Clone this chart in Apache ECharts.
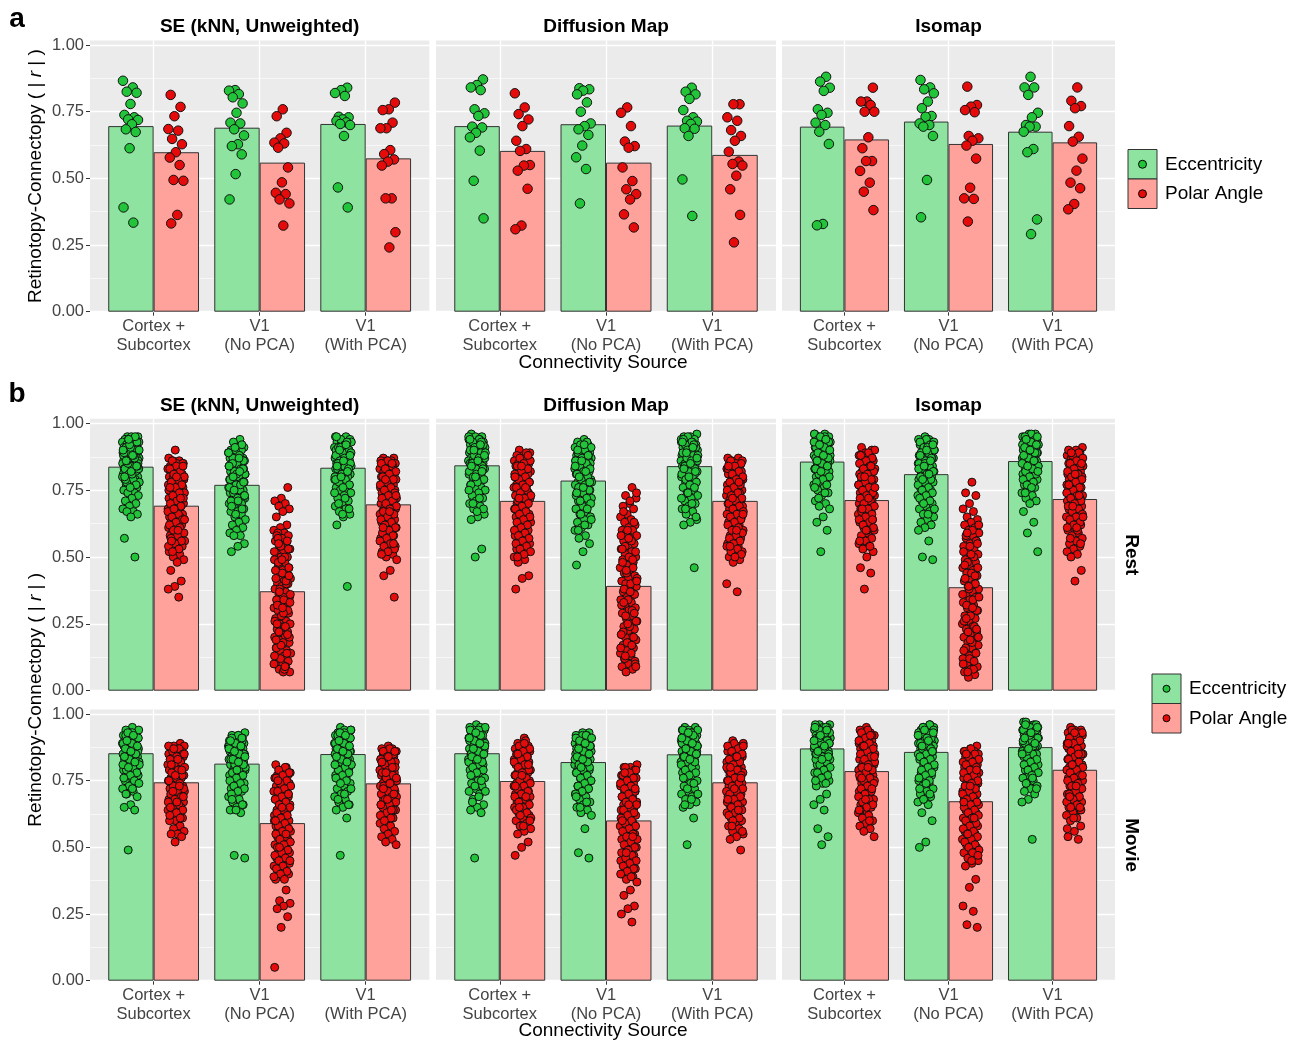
<!DOCTYPE html>
<html><head><meta charset="utf-8">
<script src="https://cdn.jsdelivr.net/npm/echarts@6/dist/echarts.min.js"></script>
<style>html,body{margin:0;padding:0;background:#fff}#c{width:1307px;height:1042px}</style>
</head><body><div id="c"></div>
<script>
// ---------------- DATA ----------------
const categories = ['Cortex +\nSubcortex', 'V1\n(No PCA)', 'V1\n(With PCA)'];
const methods = ['SE (kNN, Unweighted)', 'Diffusion Map', 'Isomap'];
const conditions = ['Rest', 'Movie'];
const seriesNames = ['Eccentricity', 'Polar Angle'];
const yTicks = [0, 0.25, 0.5, 0.75, 1];
const yMinorTicks = [0.125, 0.375, 0.625, 0.875];
const xTitle = 'Connectivity Source';

// Panel a: bar heights (mean |r|), rows = method, cols = connectivity source
const aEccMeans = [[0.696, 0.690, 0.704], [0.696, 0.703, 0.698], [0.694, 0.713, 0.675]];
const aPolMeans = [[0.598, 0.559, 0.575], [0.603, 0.559, 0.588], [0.646, 0.629, 0.635]];

// Panel a: individual points
const aEcc_SE = [
  [0.866,0.841,0.825,0.821,0.779,0.738,0.729,0.721,0.719,0.703,0.684,0.674,0.613,0.391,0.334],
  [0.831,0.829,0.816,0.804,0.781,0.746,0.709,0.706,0.684,0.661,0.628,0.621,0.590,0.516,0.421],
  [0.840,0.831,0.820,0.809,0.731,0.729,0.721,0.716,0.710,0.704,0.700,0.659,0.466,0.391]
];
const aPol_SE = [
  [0.813,0.768,0.733,0.685,0.679,0.648,0.628,0.598,0.578,0.550,0.494,0.491,0.363,0.331],
  [0.759,0.733,0.671,0.650,0.634,0.631,0.615,0.541,0.485,0.446,0.441,0.421,0.406,0.323],
  [0.784,0.759,0.756,0.709,0.688,0.688,0.606,0.591,0.571,0.563,0.548,0.425,0.425,0.298,0.241]
];
const aEcc_DM = [
  [0.871,0.850,0.841,0.831,0.759,0.744,0.734,0.694,0.691,0.671,0.654,0.604,0.491,0.350],
  [0.838,0.834,0.829,0.815,0.785,0.750,0.706,0.696,0.684,0.663,0.623,0.579,0.535,0.406],
  [0.840,0.825,0.815,0.798,0.756,0.729,0.716,0.713,0.704,0.688,0.686,0.659,0.496,0.359]
];
const aPol_DM = [
  [0.819,0.766,0.741,0.721,0.696,0.641,0.610,0.603,0.550,0.548,0.529,0.461,0.323,0.309],
  [0.766,0.746,0.696,0.638,0.621,0.615,0.541,0.490,0.459,0.441,0.421,0.365,0.316],
  [0.778,0.778,0.729,0.716,0.681,0.659,0.641,0.600,0.563,0.554,0.548,0.510,0.459,0.363,0.260]
];
const aEcc_ISO = [
  [0.881,0.863,0.840,0.828,0.759,0.746,0.738,0.709,0.700,0.675,0.629,0.329,0.324],
  [0.869,0.841,0.834,0.819,0.788,0.763,0.734,0.731,0.706,0.700,0.694,0.659,0.494,0.354],
  [0.881,0.841,0.841,0.813,0.746,0.729,0.700,0.694,0.694,0.675,0.610,0.598,0.346,0.291]
];
const aPol_ISO = [
  [0.840,0.788,0.788,0.775,0.750,0.750,0.654,0.613,0.565,0.565,0.528,0.484,0.450,0.381],
  [0.844,0.775,0.769,0.756,0.748,0.659,0.650,0.641,0.623,0.574,0.465,0.425,0.423,0.338],
  [0.841,0.791,0.771,0.763,0.696,0.656,0.638,0.574,0.529,0.484,0.463,0.404,0.384]
];

// Panel b: bar heights
const bRestEccMeans  = [[0.838, 0.770, 0.834], [0.843, 0.786, 0.840], [0.857, 0.810, 0.859]];
const bRestPolMeans  = [[0.692, 0.372, 0.697], [0.710, 0.392, 0.710], [0.713, 0.387, 0.717]];
const bMovieEccMeans = [[0.853, 0.814, 0.850], [0.853, 0.820, 0.849], [0.871, 0.858, 0.876]];
const bMoviePolMeans = [[0.744, 0.591, 0.740], [0.749, 0.601, 0.744], [0.786, 0.673, 0.791]];

// Panel b: individual points, in hundredths of |r|
const bRestEcc_SE = [
  [95,95,95,94,94,93,93,93,92,92,92,91,91,91,90,90,90,90,89,89,89,89,88,88,88,88,87,87,87,87,87,86,86,86,86,86,85,85,85,85,85,84,84,84,84,83,83,83,83,82,82,82,81,81,81,80,80,80,79,79,78,78,77,77,76,76,75,74,74,73,72,71,70,69,68,67,67,66,65,57,50,
   94,93,92,91,90,89,88,87,86,85,84,83,82,81,80,79,78,93,91,89,87,85,83,81,79,77,92,90,88,86,84,82,80,95,94,90,88,86,84,76],
  [94,93,91,91,90,90,89,89,88,88,87,87,87,86,86,86,85,85,85,84,84,84,83,83,83,82,82,82,81,81,80,80,80,79,79,78,78,78,77,77,76,76,76,75,75,74,74,73,73,72,72,71,71,70,70,69,69,68,67,67,66,65,64,63,62,61,60,59,58,58,55,54,52,
   92,90,89,88,87,86,85,84,83,82,81,80,79,78,77,76,75,74,73,72,71,70,91,89,87,85,83,81,79,77,75,73,71,69,68,66,84,82,80,78],
  [95,95,94,94,93,93,92,92,91,91,91,90,90,90,89,89,89,88,88,88,87,87,87,86,86,86,85,85,85,84,84,84,83,83,83,82,82,81,81,80,80,79,79,78,78,77,77,76,75,75,74,73,72,71,70,69,68,67,66,65,62,39,
   94,93,92,91,90,89,88,87,86,85,84,83,82,81,80,79,78,77,76,95,93,91,89,87,85,83,81,79,92,90,88,86,84,82,80,74,72,70,68,66]
];
const bRestPol_SE = [
  [90,87,86,86,85,85,84,84,83,83,82,82,81,81,80,80,80,79,79,78,78,77,77,77,76,76,75,75,75,74,74,73,73,72,72,72,71,71,70,70,69,69,68,68,67,67,66,66,65,65,64,64,63,63,62,62,61,60,60,59,59,58,57,57,56,55,55,54,53,52,51,50,49,48,45,41,39,38,35,
   86,85,84,83,82,81,80,79,78,77,76,75,74,73,72,71,70,69,68,67,66,65,64,63,62,61,60,59,58,57,56,55,54,53,52,84,80,76,72,68,64,60,56],
  [76,72,71,70,69,68,67,65,62,61,60,59,59,58,57,56,55,54,53,52,51,50,50,49,48,47,46,45,45,44,43,42,41,40,40,39,38,37,36,35,35,34,33,32,31,30,30,29,28,27,26,25,25,24,23,22,21,20,20,19,18,17,16,15,15,14,13,12,11,10,10,9,8,7,7,
   58,56,54,52,50,48,46,44,42,40,38,36,34,32,30,28,26,24,22,20,18,16,14,12,10,8,57,53,49,45,41,37,33,29,25,21,17,13,9,55,43,31,19],
  [87,87,86,86,86,85,85,84,84,84,83,83,82,82,81,81,80,80,79,79,78,78,77,77,76,76,75,75,74,74,73,73,72,72,71,71,70,70,69,69,68,68,67,67,66,66,65,64,64,63,63,62,62,61,60,59,58,58,57,56,55,54,53,52,51,50,49,45,43,35,
   86,85,84,83,82,81,80,79,78,77,76,75,74,73,72,71,70,69,68,67,66,65,64,63,62,61,60,59,58,57,56,55,54,53,52,51,85,79,73,67,61,55]
];
const bRestEcc_DM = [
  [96,95,95,94,94,93,93,92,92,92,91,91,90,90,90,89,89,89,88,88,88,87,87,87,86,86,86,85,85,85,84,84,83,83,82,82,81,81,80,79,79,78,77,76,76,75,74,73,72,71,70,69,68,66,65,64,53,50,
   95,94,93,92,91,90,89,88,87,86,85,84,83,82,81,80,79,78,77,93,91,89,87,85,83,81,94,92,90,88,86,84,82,80,75,72,70,68,67],
  [94,93,92,91,91,90,90,89,89,88,88,88,87,87,87,86,86,86,85,85,85,84,84,84,83,83,82,82,82,81,81,80,80,79,79,78,78,77,77,76,76,75,75,74,74,73,72,72,71,70,69,68,67,66,65,64,63,62,61,60,58,57,55,52,47,
   93,92,91,90,89,88,87,86,85,84,83,82,81,80,79,78,77,76,75,74,73,72,71,70,92,90,88,86,84,82,80,78,76,74,68,66,64,62,60],
  [96,95,95,94,94,93,93,92,92,91,91,91,90,90,90,89,89,89,88,88,88,87,87,87,86,86,86,85,85,85,84,84,83,83,82,82,81,81,80,80,79,78,78,77,76,75,74,73,72,71,70,69,68,67,66,64,63,62,46,
   95,94,93,92,91,90,89,88,87,86,85,84,83,82,81,80,79,78,77,94,92,90,88,86,84,82,80,93,91,89,87,85,83,76,74,72,70,68,65]
];
const bRestPol_DM = [
  [90,89,88,88,87,87,86,86,85,85,84,84,83,83,82,82,81,81,80,80,79,79,78,78,77,77,76,76,75,75,74,74,73,73,72,72,71,70,70,69,68,68,67,66,66,65,64,63,63,62,61,60,59,58,57,56,55,54,53,52,51,50,49,48,43,42,38,
   89,87,86,85,84,83,82,81,80,79,78,77,76,75,74,73,72,71,70,69,68,67,66,65,64,63,62,61,60,59,58,57,56,55,54,53,52,51,50,88,84,80,76,72],
  [76,73,72,70,69,68,66,65,64,63,62,61,60,60,59,58,57,56,55,54,53,52,51,50,49,49,48,47,46,45,44,43,42,41,40,40,39,38,37,36,35,34,33,32,31,30,29,28,27,26,25,24,23,22,21,20,20,19,18,17,16,15,14,13,12,11,10,9,8,7,
   74,71,67,63,60,58,56,54,52,50,48,46,44,42,40,38,36,34,32,30,28,26,24,22,20,18,16,14,12,10,57,53,49,45,41,37,33,29,25,21,17,13,9],
  [87,87,86,86,85,85,84,84,83,83,82,82,81,81,80,80,79,79,78,78,77,77,76,76,75,75,74,74,73,73,72,72,71,71,70,70,69,69,68,68,67,67,66,66,65,65,64,63,62,61,60,59,58,57,56,55,54,53,52,51,50,49,48,40,37,
   86,85,84,83,82,81,80,79,78,77,76,75,74,73,72,71,70,69,68,67,66,65,64,63,62,61,60,59,58,57,56,55,54,53,52,51,50,84,78,72,66,60,54]
];
const bRestEcc_ISO = [
  [96,96,95,95,94,94,93,93,93,92,92,92,91,91,91,90,90,90,89,89,89,88,88,88,87,87,87,86,86,86,85,85,84,84,83,83,82,82,81,80,79,78,77,76,75,74,73,71,70,69,68,65,63,60,52,
   96,95,94,93,92,91,90,89,88,87,86,85,84,83,82,81,80,79,78,77,95,93,91,89,87,85,83,94,92,90,88,86,84,82,76,74,72],
  [95,94,94,93,93,92,92,91,91,90,90,89,89,88,88,88,87,87,87,86,86,86,85,85,85,84,84,83,83,82,82,81,81,80,80,79,79,78,78,77,76,75,74,73,72,71,70,69,68,67,66,65,64,63,62,61,60,56,50,49,
   94,93,92,91,90,89,88,87,86,85,84,83,82,81,80,79,78,77,76,75,74,73,72,71,70,93,91,89,87,85,83,81,79,92,90,88,86,84,68,66],
  [96,96,95,95,94,94,93,93,92,92,92,91,91,91,90,90,90,89,89,89,88,88,88,87,87,87,86,86,85,85,84,84,83,83,82,82,81,80,80,79,78,77,76,75,74,73,72,71,70,67,63,59,52,
   96,95,94,93,92,91,90,89,88,87,86,85,84,83,82,81,80,79,78,77,95,93,91,89,87,85,83,94,92,90,88,86,84,82,76,74]
];
const bRestPol_ISO = [
  [91,90,89,88,87,86,86,85,85,84,84,83,83,82,82,81,81,80,80,79,79,78,78,77,77,76,76,75,75,74,74,73,73,72,72,71,71,70,70,69,69,68,68,67,67,66,66,65,64,64,63,62,61,60,59,58,57,56,55,54,53,52,50,46,44,38,
   90,89,88,87,86,85,84,83,82,81,80,79,78,77,76,75,74,73,72,71,70,69,68,67,66,65,64,63,62,61,60,88,84,80,76,72,68,64,60,56,54],
  [78,74,73,70,68,67,65,64,63,62,61,60,59,58,57,56,55,54,53,52,51,50,49,48,47,46,45,44,43,42,41,40,39,38,37,36,35,34,33,32,31,30,29,28,27,26,25,24,23,22,21,20,19,18,17,16,15,14,13,12,11,10,9,8,7,6,5,
   62,60,58,56,54,52,50,48,46,44,42,40,38,36,34,32,30,28,26,24,22,20,18,16,14,12,10,8,59,55,51,47,43,39,35,31,27,23,19,15,11,7],
  [91,90,89,89,88,88,87,87,86,86,85,85,84,84,83,83,82,82,81,81,80,80,79,79,78,78,77,77,76,76,75,75,74,74,73,73,72,72,71,71,70,70,69,69,68,67,66,65,64,63,62,61,60,59,58,57,56,55,54,53,52,51,50,45,41,
   90,89,88,87,86,85,84,83,82,81,80,79,78,77,76,75,74,73,72,71,70,69,68,67,66,65,64,63,62,61,60,89,85,81,77,73,69,65,61,57,55]
];
const bMovieEcc_SE = [
  [95,94,93,93,92,92,91,91,91,90,90,90,89,89,89,88,88,88,87,87,87,86,86,86,85,85,85,84,84,84,83,83,82,82,81,81,80,80,79,79,78,77,76,75,74,73,72,71,70,69,66,65,64,49,
   94,93,92,91,90,89,88,87,86,85,84,83,82,81,80,79,78,77,76,75,93,91,89,87,85,83,81,92,90,88,86,84,82,80,74,72,70],
  [93,92,92,91,91,90,90,90,89,89,89,88,88,88,87,87,87,86,86,86,85,85,85,84,84,84,83,83,82,82,81,81,80,80,79,79,78,78,77,77,76,75,74,73,72,71,70,69,68,67,66,65,64,63,47,46,
   92,91,90,89,88,87,86,85,84,83,82,81,80,79,78,77,76,75,74,73,72,71,70,91,89,87,85,83,81,79,90,88,86,84,82,68,66,64],
  [95,94,94,93,93,92,92,91,91,91,90,90,90,89,89,89,88,88,88,87,87,87,86,86,86,85,85,85,84,84,83,83,82,82,81,81,80,79,79,78,77,76,75,74,73,72,71,70,69,68,67,66,65,64,61,47,
   94,93,92,91,90,89,88,87,86,85,84,83,82,81,80,79,78,77,76,75,93,91,89,87,85,83,81,92,90,88,86,84,82,74,72,70,68,66]
];
const bMoviePol_SE = [
  [89,88,88,87,87,86,86,85,85,84,84,83,83,82,82,81,81,80,80,79,79,78,78,77,77,76,76,75,75,74,74,73,73,72,72,71,71,70,70,69,69,68,68,67,67,66,66,65,65,64,63,62,61,60,60,58,57,56,55,55,54,52,
   88,87,86,85,84,83,82,81,80,79,78,77,76,75,74,73,72,71,70,69,68,67,66,65,64,63,62,61,87,85,83,81,79,77,75,73,71,69,67,65],
  [81,80,79,78,78,77,77,76,76,75,75,74,74,73,72,72,71,70,70,69,68,68,67,66,66,65,64,64,63,62,62,61,60,59,58,58,57,56,55,54,53,52,51,50,49,48,47,46,45,44,43,42,41,40,39,38,34,30,29,28,27,24,20,5,
   80,79,78,77,76,75,74,73,72,71,70,69,68,67,66,65,64,63,62,61,60,59,58,57,56,55,54,53,52,51,50,49,48,47,46,45,44,43,42,41,40,39,38,75,70,65,60,55,50,45],
  [88,87,87,86,86,85,85,84,84,83,83,82,82,81,81,80,80,79,79,78,78,77,77,76,76,75,75,74,74,73,73,72,72,71,71,70,70,69,69,68,68,67,67,66,66,65,64,63,62,61,60,59,58,57,56,55,54,53,52,51,
   87,86,85,84,83,82,81,80,79,78,77,76,75,74,73,72,71,70,69,68,67,66,65,64,63,62,61,60,86,84,82,80,78,76,74,72,70,68,66,64]
];
const bMovieEcc_DM = [
  [96,95,95,94,94,93,93,92,92,91,91,91,90,90,90,89,89,89,88,88,88,87,87,87,86,86,85,85,84,84,83,83,82,81,80,79,78,77,76,75,74,73,72,71,70,68,66,65,64,63,46,
   95,94,93,92,91,90,89,88,87,86,85,84,83,82,81,80,79,78,94,92,90,88,86,84,82,93,91,89,87,85,83,77,75,73,71,69,67],
  [93,93,92,92,91,91,90,90,90,89,89,89,88,88,88,87,87,87,86,86,86,85,85,85,84,84,83,83,82,82,81,81,80,80,79,79,78,77,76,75,74,73,72,71,70,69,68,67,66,65,64,63,62,57,48,46,
   92,91,90,89,88,87,86,85,84,83,82,81,80,79,78,77,76,75,74,73,72,71,70,92,90,88,86,84,82,80,91,89,87,85,83,69,67,65],
  [95,95,94,94,93,93,92,92,91,91,91,90,90,90,89,89,89,88,88,88,87,87,87,86,86,86,85,85,84,84,83,83,82,82,81,80,79,78,77,76,75,74,73,72,71,70,69,68,67,66,65,61,51,
   94,93,92,91,90,89,88,87,86,85,84,83,82,81,80,79,78,77,94,92,90,88,86,84,82,93,91,89,87,85,83,76,74,72,70,68,66]
];
const bMoviePol_DM = [
  [91,89,88,88,87,87,86,86,85,85,84,84,83,83,82,82,81,81,80,80,79,79,78,78,77,77,76,76,75,75,74,74,73,73,72,72,71,71,70,70,69,69,68,67,67,66,65,64,63,62,61,60,59,58,57,56,55,52,50,47,
   90,88,87,86,85,84,83,82,81,80,79,78,77,76,75,74,73,72,71,70,69,68,67,66,65,64,63,62,61,89,85,81,77,73,69,65,60,58],
  [81,80,80,79,78,77,77,76,76,75,74,74,73,73,72,71,71,70,69,69,68,67,67,66,65,65,64,63,63,62,61,60,59,59,58,57,56,55,54,53,52,51,50,49,48,47,46,45,44,43,42,41,40,39,38,37,34,32,28,27,25,22,
   80,79,78,77,76,75,74,73,72,71,70,69,68,67,66,65,64,63,62,61,60,59,58,57,56,55,54,53,52,51,50,49,48,47,46,45,44,43,42,41,40,39,78,72,66,60,54,48],
  [90,89,88,87,87,86,86,85,85,84,84,83,83,82,82,81,81,80,80,79,79,78,78,77,77,76,76,75,75,74,74,73,73,72,72,71,71,70,70,69,69,68,68,67,67,66,65,64,63,62,61,60,59,58,57,56,55,54,53,49,
   89,88,87,86,85,84,83,82,81,80,79,78,77,76,75,74,73,72,71,70,69,68,67,66,65,64,63,62,61,60,88,84,80,76,72,68,64,58,56]
];
const bMovieEcc_ISO = [
  [96,96,95,95,95,94,94,94,93,93,93,92,92,92,91,91,91,90,90,90,89,89,89,88,88,88,87,87,87,86,86,85,85,84,84,83,82,81,80,79,78,77,76,75,74,73,70,68,66,64,57,54,51,
   96,95,94,93,92,91,90,89,88,87,86,85,84,83,82,81,80,79,78,77,76,95,93,91,89,87,85,94,92,90,88,86,84,83,75,74],
  [96,95,95,94,94,94,93,93,93,92,92,92,91,91,91,90,90,90,89,89,89,88,88,88,87,87,86,86,85,85,84,84,83,83,82,81,80,79,78,77,76,75,74,73,72,71,70,69,68,67,66,63,60,52,50,
   96,95,94,93,92,91,90,89,88,87,86,85,84,83,82,81,80,79,78,77,76,75,95,93,91,89,87,94,92,90,88,86,74,72,70,68],
  [97,96,96,95,95,95,94,94,94,93,93,93,92,92,92,91,91,91,90,90,90,89,89,89,88,88,88,87,87,86,86,85,85,84,84,83,82,81,80,79,78,77,76,75,74,73,72,71,70,68,67,53,
   97,96,95,94,93,92,91,90,89,88,87,86,85,84,83,82,81,80,79,78,77,96,94,92,90,88,86,95,93,91,89,87,85,76,74,72]
];
const bMoviePol_ISO = [
  [95,94,93,92,92,91,91,90,90,89,89,88,88,87,87,86,86,85,85,84,84,83,83,82,82,81,81,80,80,79,79,78,78,77,77,76,76,75,75,74,74,73,72,71,70,69,68,67,66,65,64,63,62,61,60,59,58,57,56,54,
   94,93,92,91,90,89,88,87,86,85,84,83,82,81,80,79,78,77,76,75,74,73,72,71,70,69,68,67,66,65,64,92,88,84,80,76,72,68,64,60],
  [88,87,86,86,85,85,84,84,83,83,82,82,81,81,80,80,79,79,78,78,77,77,76,76,75,75,74,74,73,73,72,71,71,70,70,69,68,68,67,66,65,64,63,62,61,60,59,58,57,56,55,54,53,52,51,50,49,48,47,46,45,44,43,38,35,28,26,21,20,
   87,86,85,84,83,82,81,80,79,78,77,76,75,74,73,72,71,70,69,68,67,66,65,64,63,62,61,60,59,58,57,56,55,54,53,52,51,50,49,48,85,79,73,67,61,55,47,45],
  [95,94,94,93,93,92,92,91,91,90,90,89,89,88,88,87,87,86,86,85,85,84,84,83,83,82,82,81,81,80,80,79,79,78,78,77,77,76,76,75,75,74,73,72,71,70,69,68,67,66,65,64,63,62,61,60,58,56,54,53,
   94,93,92,91,90,89,88,87,86,85,84,83,82,81,80,79,78,77,76,75,74,73,72,71,70,69,68,67,66,65,64,93,89,85,81,77,73,69,65,61,57]
];

// ---------------- LAYOUT / STYLE ----------------
const FONT = '"Liberation Sans", Arial, Helvetica, sans-serif';
const ECC_FILL = '#8EE3A0', POL_FILL = '#FFA29B';
const ECC_PT = '#22C43A', POL_PT = '#E60B0B';
const PANEL_BG = '#EBEBEB';
const TICK_COL = '#444';
const cols = [{left: 90, width: 339.3}, {left: 436, width: 340}, {left: 782, width: 333}];
const rows = [
  {top: 40.5, height: 271.2, xLabels: true},
  {top: 418.8, height: 271.9, xLabels: false},
  {top: 709.5, height: 271.2, xLabels: true}
];
const DODGE = 0.214;   // half the bar width, in category units
const YMAX = 1.017;

const grid = [], xAxis = [], yAxis = [], series = [];
let groupSeed = 0;
function jit(i, s, w) {
  const f = ((i + 1) * 0.6180339887 + s * 0.3819660113) % 1;
  return (f * 2 - 1) * w;
}

function addPanel(ri, ci, eM, pM, eP, pP, div, sym, jw) {
  const r = rows[ri], c = cols[ci];
  const g = grid.length;
  grid.push({left: c.left, top: r.top, width: c.width, height: r.height, show: true,
    backgroundColor: PANEL_BG, borderWidth: 0, containLabel: false, outerBoundsMode: 'none'});
  xAxis.push({type: 'value', gridIndex: g, min: 0.4, max: 3.6,
    axisLine: {show: false},
    axisTick: {show: r.xLabels, customValues: [1, 2, 3], length: 4, lineStyle: {color: '#333', width: 1}},
    axisLabel: {show: r.xLabels, customValues: [1, 2, 3], formatter: v => categories[Math.round(v) - 1],
      color: TICK_COL, fontSize: 16.5, fontFamily: FONT, lineHeight: 18.5, margin: 6},
    splitLine: {show: true, lineStyle: {color: '#ffffff', width: 1.3}}
  });
  const yMain = yAxis.length;
  yAxis.push({type: 'value', gridIndex: g, min: 0, max: YMAX,
    axisLine: {show: false},
    axisTick: {show: ci === 0, customValues: yTicks, length: 4, lineStyle: {color: '#333', width: 1}},
    axisLabel: {show: ci === 0, customValues: yTicks, formatter: v => v.toFixed(2),
      color: TICK_COL, fontSize: 16.5, fontFamily: FONT, margin: 6},
    splitLine: {show: true, lineStyle: {color: '#ffffff', width: 1.3}}, z: 1
  });
  yAxis.push({type: 'value', gridIndex: g, min: 0, max: YMAX,
    axisLine: {show: false},
    axisTick: {show: false, customValues: yMinorTicks},
    axisLabel: {show: false, customValues: yMinorTicks},
    splitLine: {show: true, lineStyle: {color: '#ffffff', width: 0.6}}, z: 0
  });
  const barCommon = {type: 'bar', xAxisIndex: g, yAxisIndex: yMain, barWidth: '100%', barGap: '-100%',
    silent: true, z: 2};
  series.push(Object.assign({}, barCommon, {name: seriesNames[0],
    data: eM.map((v, k) => [k + 1 - DODGE, v]),
    itemStyle: {color: ECC_FILL, borderColor: '#333', borderWidth: 1}}));
  series.push(Object.assign({}, barCommon, {name: seriesNames[1],
    data: pM.map((v, k) => [k + 1 + DODGE, v]),
    itemStyle: {color: POL_FILL, borderColor: '#333', borderWidth: 1}}));
  const pts = (lists, sign) => {
    const out = [];
    lists.forEach((list, k) => {
      groupSeed++;
      list.forEach((v, i) => out.push([k + 1 + sign * DODGE + jit(i, groupSeed, jw), v / div]));
    });
    return out;
  };
  series.push({type: 'scatter', name: seriesNames[0], xAxisIndex: g, yAxisIndex: yMain, silent: true, z: 3,
    symbolSize: sym, data: pts(eP, -1),
    itemStyle: {color: ECC_PT, borderColor: '#111', borderWidth: 1, opacity: 1}});
  series.push({type: 'scatter', name: seriesNames[1], xAxisIndex: g, yAxisIndex: yMain, silent: true, z: 3,
    symbolSize: sym, data: pts(pP, 1),
    itemStyle: {color: POL_PT, borderColor: '#111', borderWidth: 1, opacity: 1}});
}

const aEccPts = [aEcc_SE, aEcc_DM, aEcc_ISO], aPolPts = [aPol_SE, aPol_DM, aPol_ISO];
const bRestEccPts = [bRestEcc_SE, bRestEcc_DM, bRestEcc_ISO], bRestPolPts = [bRestPol_SE, bRestPol_DM, bRestPol_ISO];
const bMovieEccPts = [bMovieEcc_SE, bMovieEcc_DM, bMovieEcc_ISO], bMoviePolPts = [bMoviePol_SE, bMoviePol_DM, bMoviePol_ISO];
for (let m = 0; m < 3; m++) {
  addPanel(0, m, aEccMeans[m], aPolMeans[m], aEccPts[m], aPolPts[m], 1, 9.5, 0.075);
  addPanel(1, m, bRestEccMeans[m], bRestPolMeans[m], bRestEccPts[m], bRestPolPts[m], 100, 8, 0.08);
  addPanel(2, m, bMovieEccMeans[m], bMoviePolMeans[m], bMovieEccPts[m], bMoviePolPts[m], 100, 8, 0.08);
}

// ---------------- TEXT / LEGEND GRAPHICS ----------------
const graphic = [];
function txt(text, x, y, o) {
  o = o || {};
  graphic.push({type: 'text', x: x, y: y, rotation: o.rot || 0, silent: true,
    style: {text: text, fill: o.color || '#000', fontSize: o.size || 19, fontFamily: FONT,
      fontWeight: o.bold ? 'bold' : 'normal', align: o.align || 'center', verticalAlign: 'middle',
      textAlign: o.align || 'center', textVerticalAlign: 'middle', rich: o.rich}});
}
txt('a', 17, 19, {size: 28, bold: true});
txt('b', 17, 394, {size: 28, bold: true});
cols.forEach((c, m) => {
  txt(methods[m], c.left + c.width / 2, 27, {bold: true});
  txt(methods[m], c.left + c.width / 2, 405.5, {bold: true});
});
txt(conditions[0], 1131, rows[1].top + rows[1].height / 2, {bold: true, rot: -Math.PI / 2});
txt(conditions[1], 1131, rows[2].top + rows[2].height / 2, {bold: true, rot: -Math.PI / 2});
const richI = {i: {fontStyle: 'italic', fontSize: 19, fontFamily: FONT, fill: '#000'}};
txt('Retinotopy-Connectopy ( | {i|r} | )', 36, (rows[0].top + 311.7) / 2, {rot: Math.PI / 2, rich: richI});
txt('Retinotopy-Connectopy ( | {i|r} | )', 36, (rows[1].top + 980.7) / 2, {rot: Math.PI / 2, rich: richI});
txt(xTitle, 603, 362.5);
txt(xTitle, 603, 1031);

function legend(x, y, dotR) {
  const fills = [ECC_FILL, POL_FILL], dots = [ECC_PT, POL_PT];
  for (let k = 0; k < 2; k++) {
    const yy = y + k * 29.5;
    graphic.push({type: 'rect', silent: true, shape: {x: x, y: yy, width: 29, height: 29.5},
      style: {fill: fills[k], stroke: '#333', lineWidth: 1}});
    graphic.push({type: 'circle', silent: true, shape: {cx: x + 14.5, cy: yy + 14.75, r: dotR},
      style: {fill: dots[k], stroke: '#000', lineWidth: 1}});
    txt(seriesNames[k], x + 37, yy + 15, {align: 'left'});
  }
}
legend(1128, 149.5, 4);
legend(1152, 674, 3.5);

const chart = echarts.init(document.getElementById('c'), null, {renderer: 'canvas'});
chart.setOption({
  animation: false,
  backgroundColor: '#ffffff',
  grid: grid, xAxis: xAxis, yAxis: yAxis, series: series, graphic: graphic
});
</script></body></html>
